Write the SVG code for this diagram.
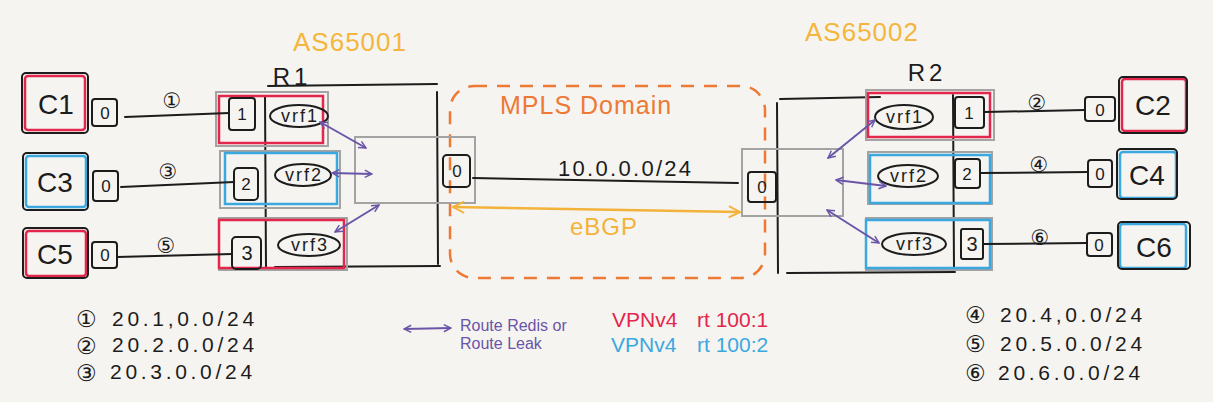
<svg xmlns="http://www.w3.org/2000/svg" width="1213" height="402" viewBox="0 0 1213 402">
<style>
.bg{fill:#f5f4f1}
.blk{fill:none;stroke:#1c1c1c;stroke-width:2;stroke-linecap:round;stroke-linejoin:round}
.red{fill:none;stroke:#e4264c;stroke-width:2.5}
.blue{fill:none;stroke:#3ba8e0;stroke-width:2.5}
.gray{fill:none;stroke:#a3a3a3;stroke-width:2}
.pur{fill:none;stroke:#6a55a8;stroke-width:2;marker-start:url(#pa);marker-end:url(#pa)}
.ebgp{fill:none;stroke:#f3b33a;stroke-width:2.5;marker-start:url(#oa);marker-end:url(#oa)}
.mpls{fill:none;stroke:#ee7934;stroke-width:2.5;stroke-dasharray:13 10}
text{font-family:"Liberation Sans","Noto Sans CJK SC",sans-serif;fill:#1c1c1c}
.cl{font-size:28px;text-anchor:middle}
.pt{font-size:17px;text-anchor:middle}
.vrf{font-size:18px;text-anchor:middle;letter-spacing:2px}
.rl{font-size:24px;text-anchor:middle;letter-spacing:4px}
.num{font-family:"DejaVu Sans","Noto Sans CJK SC",sans-serif;font-size:21px;text-anchor:middle}
.as{font-size:26px;fill:#f4b63e;letter-spacing:1px}
.leg{font-size:21px;letter-spacing:3.7px}
.lnum{font-family:"DejaVu Sans","Noto Sans CJK SC",sans-serif;font-size:23px}
</style>
<defs>
<marker id="pa" viewBox="0 0 10 10" refX="9" refY="5" markerWidth="9" markerHeight="9" markerUnits="userSpaceOnUse" orient="auto-start-reverse"><path d="M1,1 L9,5 L1,9" fill="none" stroke="#6a55a8" stroke-width="1.6"/></marker>
<marker id="oa" viewBox="0 0 10 10" refX="9" refY="5" markerWidth="14" markerHeight="14" markerUnits="userSpaceOnUse" orient="auto-start-reverse"><path d="M1,1 L9,5 L1,9" fill="none" stroke="#f3b33a" stroke-width="1.4"/></marker>
</defs>
<rect class="bg" x="0" y="0" width="1213" height="402"/>

<text class="as" x="293" y="51">AS65001</text>
<text class="as" x="805" y="41">AS65002</text>

<g id="mpls-domain">
<rect class="mpls" x="450" y="86" width="315" height="192" rx="24"/>
<text x="500" y="114" style="font-size:25px;fill:#ee7934;letter-spacing:1px">MPLS Domain</text>
</g>

<g id="C1">
<rect class="red" x="25" y="76" width="60" height="54" rx="3"/>
<rect class="blk" x="22" y="73" width="66" height="60" rx="4"/>
<text class="cl" x="56" y="114">C1</text>
<rect class="blk" x="92" y="99" width="25" height="27" rx="3"/>
<text class="pt" x="105" y="119">0</text>
</g>
<g id="C3">
<rect class="blue" x="26" y="156" width="60" height="51" rx="3"/>
<rect class="blk" x="23" y="153" width="65" height="57" rx="4"/>
<text class="cl" x="55" y="192">C3</text>
<rect class="blk" x="93" y="171" width="25" height="30" rx="3"/>
<text class="pt" x="106" y="192">0</text>
</g>
<g id="C5">
<rect class="red" x="26" y="231" width="60" height="45" rx="3"/>
<rect class="blk" x="23" y="228" width="65" height="50" rx="4"/>
<text class="cl" x="55" y="264">C5</text>
<rect class="blk" x="92" y="242" width="25" height="26" rx="3"/>
<text class="pt" x="105" y="261">0</text>
</g>

<g id="R1">
<text class="rl" x="292" y="85">R1</text>
<path class="blk" d="M268,86 L437,84 M437,92 L438,264 M275,267 L440,266 M265,96 L266,268"/>
<rect class="gray" x="355" y="137" width="120" height="66"/>
<rect class="gray" x="216" y="92" width="112" height="54"/>
<rect class="red" x="219" y="96" width="104" height="47"/>
<rect class="blk" x="229" y="98" width="26" height="32" rx="3"/>
<text class="pt" x="242" y="120">1</text>
<ellipse class="blk" cx="299" cy="116" rx="29" ry="11"/>
<text class="vrf" x="300" y="122">vrf1</text>
<rect class="gray" x="220" y="151" width="120" height="57"/>
<rect class="blue" x="225" y="153" width="112" height="51"/>
<rect class="blk" x="234" y="168" width="24" height="32" rx="4"/>
<text class="pt" x="246" y="190">2</text>
<ellipse class="blk" cx="303" cy="175" rx="28" ry="11"/>
<text class="vrf" x="304" y="181">vrf2</text>
<rect class="gray" x="219" y="218" width="128" height="52"/>
<rect class="red" x="219" y="220" width="125" height="48"/>
<rect class="blk" x="232" y="237" width="29" height="32" rx="4"/>
<text class="pt" x="247" y="260" style="font-size:20px">3</text>
<ellipse class="blk" cx="309" cy="245" rx="31" ry="11"/>
<text class="vrf" x="310" y="251">vrf3</text>
<rect class="blk" x="443" y="155" width="27" height="32" rx="4"/>
<text class="pt" x="457" y="177">0</text>
</g>

<g id="R2">
<text class="rl" x="927" y="81">R2</text>
<path class="blk" d="M780,99 L880,97 M777,103 L778,273 M787,273 L955,272 M953,95 L954,270"/>
<rect class="gray" x="742" y="149" width="101" height="67"/>
<rect class="blk" x="748" y="172" width="28" height="30" rx="3"/>
<text class="pt" x="762" y="193">0</text>
<rect class="gray" x="866" y="90" width="128" height="50"/>
<rect class="red" x="868" y="93" width="122" height="44"/>
<ellipse class="blk" cx="904" cy="117" rx="29" ry="12"/>
<text class="vrf" x="905" y="123">vrf1</text>
<rect class="blk" x="955" y="97" width="29" height="31" rx="3"/>
<text class="pt" x="969" y="119">1</text>
<rect class="gray" x="868" y="152" width="124" height="52"/>
<rect class="blue" x="870" y="155" width="120" height="48"/>
<ellipse class="blk" cx="908" cy="176" rx="30" ry="11"/>
<text class="vrf" x="909" y="182">vrf2</text>
<rect class="blk" x="955" y="159" width="25" height="29" rx="3"/>
<text class="pt" x="967" y="180">2</text>
<rect class="gray" x="866" y="218" width="126" height="52"/>
<rect class="blue" x="866" y="220" width="124" height="48"/>
<ellipse class="blk" cx="914" cy="244" rx="32" ry="11"/>
<text class="vrf" x="915" y="250">vrf3</text>
<rect class="blk" x="961" y="229" width="22" height="30" rx="2"/>
<text class="pt" x="972" y="251" style="font-size:20px">3</text>
</g>

<g id="C2">
<rect class="red" x="1122" y="79" width="64" height="52" rx="3"/>
<rect class="blk" x="1119" y="77" width="68" height="56" rx="4"/>
<text class="cl" x="1153" y="115">C2</text>
<rect class="blk" x="1085" y="97" width="30" height="24" rx="3"/>
<text class="pt" x="1100" y="116">0</text>
</g>
<g id="C4">
<rect class="blue" x="1120" y="152" width="56" height="46" rx="3"/>
<rect class="blk" x="1117" y="149" width="60" height="50" rx="4"/>
<text class="cl" x="1147" y="185">C4</text>
<rect class="blk" x="1088" y="160" width="24" height="27" rx="3"/>
<text class="pt" x="1100" y="180">0</text>
</g>
<g id="C6">
<rect class="blue" x="1120" y="224" width="66" height="44" rx="3"/>
<rect class="blk" x="1118" y="222" width="72" height="47" rx="4"/>
<text class="cl" x="1154" y="257">C6</text>
<rect class="blk" x="1087" y="233" width="25" height="23" rx="3"/>
<text class="pt" x="1099" y="251">0</text>
</g>

<g id="connectors">
<path class="blk" d="M125,117 L229,113"/>
<path class="blk" d="M121,187 L234,182"/>
<path class="blk" d="M117,257 L232,254"/>
<path class="blk" d="M985,112 L1085,110"/>
<path class="blk" d="M981,173 L1088,172"/>
<path class="blk" d="M983,244 L1087,243"/>
<path class="blk" d="M473,178 L738,183"/>
<path class="ebgp" d="M453,207 L740,212"/>
<path class="pur" d="M320,122 L366,148"/>
<path class="pur" d="M332,173 L372,174"/>
<path class="pur" d="M335,232 L379,205"/>
<path class="pur" d="M875,120 L828,158"/>
<path class="pur" d="M836,180 L886,186"/>
<path class="pur" d="M827,210 L879,243"/>
<text class="num" x="172" y="108">①</text>
<text class="num" x="168" y="179">③</text>
<text class="num" x="166" y="253">⑤</text>
<text class="num" x="1037" y="110">②</text>
<text class="num" x="1039" y="172">④</text>
<text class="num" x="1040" y="245">⑥</text>
<text x="558" y="176" style="font-size:22px;letter-spacing:2.3px">10.0.0.0/24</text>
<text x="570" y="235" style="font-size:24px;fill:#f3b33a;letter-spacing:1px">eBGP</text>
</g>

<g id="legend">
<text class="lnum" x="76" y="327">①</text>
<text class="leg" x="112" y="326">20.1,0.0/24</text>
<text class="lnum" x="76" y="354">②</text>
<text class="leg" x="112" y="352">20.2.0.0/24</text>
<text class="lnum" x="76" y="381">③</text>
<text class="leg" x="110" y="379">20.3.0.0/24</text>
<text class="lnum" x="965" y="323">④</text>
<text class="leg" x="1000" y="322">20.4,0.0/24</text>
<text class="lnum" x="965" y="352">⑤</text>
<text class="leg" x="1000" y="351">20.5.0.0/24</text>
<text class="lnum" x="965" y="381">⑥</text>
<text class="leg" x="998" y="380">20.6.0.0/24</text>
<path class="pur" d="M404,329 L451,328"/>
<text x="460" y="331" style="font-size:16px;fill:#6a55a8">Route Redis or</text>
<text x="460" y="349" style="font-size:16px;fill:#6a55a8">Route Leak</text>
<text x="612" y="327" style="font-size:21px;fill:#e4264c">VPNv4<tspan x="697">rt 100:1</tspan></text>
<text x="611" y="352" style="font-size:21px;fill:#3ba8e0">VPNv4<tspan x="697">rt 100:2</tspan></text>
</g>
</svg>
